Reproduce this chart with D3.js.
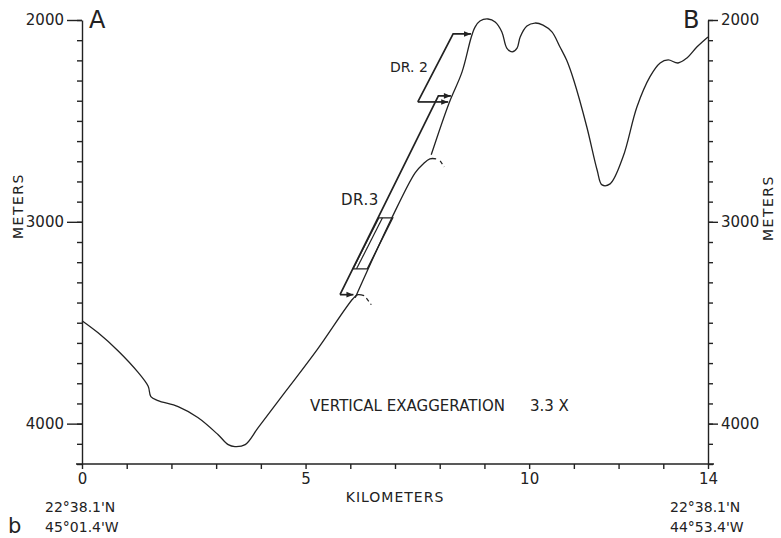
<!DOCTYPE html>
<html>
<head>
<meta charset="utf-8">
<script src="https://cdn.jsdelivr.net/npm/d3@7"></script>
<style>
  body { margin: 0; background: #fff; }
  svg { display: block; font-family: "DejaVu Sans", sans-serif; }
  .axis path, .axis line { stroke: #222; stroke-width: 1.4; }
  .axis text { fill: #222; font-family: "DejaVu Sans", sans-serif; font-size: 15px; }
</style>
</head>
<body>
<svg width="781" height="538"></svg>
<script>
"use strict";

// bottom profile in three pieces, distance along track (km) and depth (m)
var lowerKm = [0, 0.36, 0.81, 1.25, 1.48, 1.54, 1.70, 2.15, 2.59, 3.04, 3.27, 3.42, 3.65, 3.94, 4.38,
  5.26, 6.06, 6.17, 6.31];
var lowerDepth = [3490, 3550, 3640, 3745, 3815, 3866, 3886, 3916, 3970, 4054, 4104, 4114, 4104, 4020, 3891,
  3633, 3381, 3361, 3366];
var middleKm = [6.11, 6.93, 7.45, 7.63, 7.78, 7.92];
var middleDepth = [3376, 2980, 2757, 2713, 2688, 2688];
var upperKm = [7.81, 8.21, 8.50, 8.70, 8.79, 8.90, 9.08, 9.24, 9.39, 9.50, 9.62, 9.73, 9.80,
  9.95, 10.13, 10.31, 10.51, 10.69, 10.84, 11.00, 11.29, 11.52, 11.63, 11.81, 12.10, 12.41, 12.70,
  12.93, 13.11, 13.33, 13.53, 13.75, 14.0];
var upperDepth = [2668, 2411, 2257, 2089, 2035, 2005, 1995, 2010, 2059, 2139, 2158, 2139, 2084,
  2030, 2015, 2025, 2059, 2134, 2200, 2300, 2530, 2743, 2817, 2812, 2678, 2431, 2282,
  2213, 2198, 2213, 2188, 2134, 2084];

// dashed tails where the lower pieces roll over
var lowTailKm = [6.36, 6.47], lowTailDepth = [3378, 3411];
var midTailKm = [8.01, 8.10], midTailDepth = [2698, 2728];

// dredge tracks
var dr2Km = [7.51, 8.30, 8.70], dr2Depth = [2406, 2069, 2069];
var dr2StartKm = [7.51, 8.19], dr2StartDepth = [2406, 2406];
var dr3Km = [5.77, 7.97, 8.25], dr3Depth = [3361, 2376, 2376];
var dr3StartKm = [5.77, 6.07], dr3StartDepth = [3361, 3361];
var dr3BoxKm = [6.64, 6.95, 6.38, 6.06], dr3BoxDepth = [2980, 2980, 3233, 3233];
var dr3InnerKm = [6.14, 6.72], dr3InnerDepth = [3233, 2980];

var kmTicks = d3.range(0, 15);
var kmLabels = [0, 5, 10, 14];
var depthMinor = d3.range(2000, 4201, 100);
var depthMajor = [2000, 3000, 4000];

var svg = d3.select("svg");
var x = d3.scaleLinear().domain([0, 14]).range([82, 708]);
var y = d3.scaleLinear().domain([2000, 4200]).range([20, 464]);

function pts(xs, ys) {
  return xs.map(function (v, i) { return [v, ys[i]]; });
}

var straight = d3.line()
  .x(function (d) { return x(d[0]); })
  .y(function (d) { return y(d[1]); });
var smooth = d3.line()
  .x(function (d) { return x(d[0]); })
  .y(function (d) { return y(d[1]); })
  .curve(d3.curveCatmullRom.alpha(0.5));

svg.append("defs").append("marker")
  .attr("id", "arrow")
  .attr("viewBox", "0 0 10 10")
  .attr("refX", 10).attr("refY", 5)
  .attr("markerUnits", "userSpaceOnUse")
  .attr("markerWidth", 8).attr("markerHeight", 7)
  .attr("orient", "auto")
  .append("path")
  .attr("d", "M0,1L10,5L0,9Z")
  .attr("fill", "#222");

// axes
svg.append("g").attr("class", "axis")
  .attr("transform", "translate(" + x(0) + ",0)")
  .call(d3.axisLeft(y).tickValues(depthMinor).tickSize(5).tickSizeOuter(0).tickFormat(""));
svg.append("g").attr("class", "axis")
  .attr("transform", "translate(" + x(0) + ",0)")
  .call(d3.axisLeft(y).tickValues(depthMajor).tickSize(15).tickPadding(3).tickFormat(d3.format("d")))
  .call(function (g) { g.select(".domain").remove(); });

svg.append("g").attr("class", "axis")
  .attr("transform", "translate(" + x(14) + ",0)")
  .call(d3.axisRight(y).tickValues(depthMinor).tickSize(5).tickSizeOuter(0).tickFormat(""));
svg.append("g").attr("class", "axis")
  .attr("transform", "translate(" + x(14) + ",0)")
  .call(d3.axisRight(y).tickValues(depthMajor).tickSize(10).tickPadding(3).tickFormat(d3.format("d")))
  .call(function (g) { g.select(".domain").remove(); });

svg.append("g").attr("class", "axis")
  .attr("transform", "translate(0," + y(4200) + ")")
  .call(d3.axisBottom(x).tickValues(kmTicks).tickSize(5).tickPadding(4)
    .tickFormat(function (d) { return kmLabels.indexOf(d) >= 0 ? d : ""; }))
  .call(function (g) {
    g.select(".domain").attr("d", "M" + (x(0) - 6) + ",0H" + (x(14) + 6));
  });

// profile
[[lowerKm, lowerDepth], [middleKm, middleDepth], [upperKm, upperDepth]].forEach(function (p) {
  svg.append("path")
    .attr("d", smooth(pts(p[0], p[1])))
    .attr("fill", "none").attr("stroke", "#222").attr("stroke-width", 1.3);
});
[[lowTailKm, lowTailDepth], [midTailKm, midTailDepth]].forEach(function (b) {
  svg.append("path").attr("d", straight(pts(b[0], b[1])))
    .attr("fill", "none").attr("stroke", "#222").attr("stroke-width", 1.2)
    .attr("stroke-dasharray", "4,3");
});

// dredge tracks
var tracks = [[dr2Km, dr2Depth], [dr2StartKm, dr2StartDepth], [dr3Km, dr3Depth], [dr3StartKm, dr3StartDepth]];
tracks.forEach(function (t) {
  svg.append("path").attr("d", straight(pts(t[0], t[1])))
    .attr("fill", "none").attr("stroke", "#222").attr("stroke-width", 1.7)
    .attr("marker-end", "url(#arrow)");
});
svg.append("path").attr("d", straight(pts(dr3BoxKm, dr3BoxDepth)) + "Z")
  .attr("fill", "none").attr("stroke", "#222").attr("stroke-width", 1.3);
svg.append("path").attr("d", straight(pts(dr3InnerKm, dr3InnerDepth)))
  .attr("fill", "none").attr("stroke", "#222").attr("stroke-width", 1.2);

// text
function label(tx, ty, s, size, anchor, rot) {
  var t = svg.append("text")
    .attr("x", tx).attr("y", ty)
    .attr("font-size", size)
    .attr("fill", "#222")
    .attr("text-anchor", anchor || "start")
    .text(s);
  if (rot) t.attr("transform", "rotate(" + rot + "," + tx + "," + ty + ")");
  return t;
}

label(89, 28, "A", 24);
label(683, 28, "B", 24);
label(23, 206, "METERS", 14, "middle", -90).attr("letter-spacing", 1.5);
label(773, 208, "METERS", 14, "middle", -90).attr("letter-spacing", 1.5);
label(395, 502, "KILOMETERS", 14, "middle").attr("letter-spacing", 1);
label(45, 512, "22°38.1'N", 14);
label(45, 532, "45°01.4'W", 14);
label(670, 512, "22°38.1'N", 14);
label(670, 532, "44°53.4'W", 14);
label(8, 533, "b", 21);
label(310, 411, "VERTICAL EXAGGERATION", 15).attr("textLength", 195);
label(530, 411, "3.3 X", 15);
label(390, 72, "DR. 2", 14);
label(341, 205, "DR.3", 15).attr("letter-spacing", 0.5);
</script>
</body>
</html>
